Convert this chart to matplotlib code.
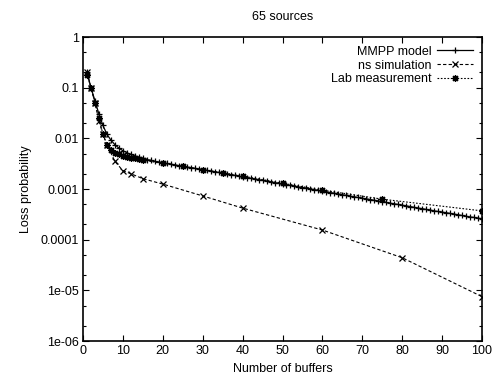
import numpy as np
import matplotlib
matplotlib.use("Agg")
import matplotlib.pyplot as plt
from matplotlib.ticker import FixedLocator, FixedFormatter, LogLocator, NullFormatter

plt.rcParams['font.family'] = ['Liberation Sans', 'DejaVu Sans']

# data
mmpp_x = list(range(1, 101))
mmpp_y = [0.2, 0.1, 0.055, 0.03, 0.018, 0.012, 0.0092, 0.0075, 0.0064, 0.0057,
          0.0052, 0.0048, 0.0045, 0.0042, 0.0040, 0.0038, 0.0037, 0.0035, 0.0034, 0.0033,
          3.2e-3, 3.1e-3, 3.0e-3, 2.9e-3, 2.82e-3, 2.73e-3, 2.65e-3, 2.57e-3, 2.49e-3, 2.41e-3,
          2.33e-3, 2.26e-3, 2.19e-3, 2.12e-3, 2.05e-3, 1.99e-3, 1.92e-3, 1.86e-3, 1.80e-3, 1.74e-3,
          1.68e-3, 1.63e-3, 1.58e-3, 1.53e-3, 1.48e-3, 1.43e-3, 1.39e-3, 1.34e-3, 1.30e-3, 1.26e-3,
          1.22e-3, 1.18e-3, 1.14e-3, 1.10e-3, 1.07e-3, 1.04e-3, 1.00e-3, 9.7e-4, 9.4e-4, 9.1e-4,
          8.8e-4, 8.5e-4, 8.25e-4, 8.0e-4, 7.7e-4, 7.5e-4, 7.25e-4, 7.0e-4, 6.8e-4, 6.6e-4,
          6.4e-4, 6.2e-4, 6.0e-4, 5.8e-4, 5.6e-4, 5.45e-4, 5.25e-4, 5.1e-4, 4.95e-4, 4.8e-4,
          4.65e-4, 4.5e-4, 4.35e-4, 4.2e-4, 4.1e-4, 3.95e-4, 3.85e-4, 3.7e-4, 3.6e-4, 3.5e-4,
          3.4e-4, 3.3e-4, 3.2e-4, 3.1e-4, 3.0e-4, 2.9e-4, 2.8e-4, 2.75e-4, 2.65e-4, 2.6e-4]

ns_x = [1, 2, 3, 4, 5, 6, 8, 10, 12, 15, 20, 30, 40, 60, 80, 100]
ns_y = [0.2, 0.1, 0.05, 0.022, 0.012, 0.0075, 0.0035, 0.0023, 0.002, 0.0016,
        0.00125, 0.00073, 0.00042, 0.000155, 0.000044, 7.5e-6]

lab_x = [1, 2, 3, 4, 5, 6, 7, 8, 9, 10, 11, 12, 13, 14, 15, 20, 25, 30, 35, 40, 50, 60, 75, 100]
lab_y = [0.18, 0.1, 0.05, 0.025, 0.012, 0.0075, 0.0058, 0.0052, 0.0048, 0.0045,
         0.0043, 0.0041, 0.0040, 0.0039, 0.0037, 0.0032, 0.0028, 0.0024, 0.0021, 0.0018,
         0.0013, 0.00095, 0.00063, 0.00037]

xticks = [0, 10, 20, 30, 40, 50, 60, 70, 80, 90, 100]
yticks = [1e-6, 1e-5, 1e-4, 1e-3, 1e-2, 1e-1, 1]
ytick_labels = ["1e-06", "1e-05", "0.0001", "0.001", "0.01", "0.1", "1"]

fig = plt.figure(figsize=(4.93, 3.83), dpi=100)
ax = fig.add_axes([83/493, 1-341/383, (482-83)/493, (341-37)/383])

ax.plot(mmpp_x, mmpp_y, color="black", lw=0.9, ls="-", marker="+", ms=5, mew=0.9,
        label="MMPP model")
ax.plot(ns_x, ns_y, color="black", lw=0.8, ls=(0, (3, 2)), marker="x", ms=4.5, mew=0.9,
        label="ns simulation")
ax.plot(lab_x, lab_y, color="black", lw=0.8, ls=(0, (1.5, 1.5)), marker=(8, 2, 0), ms=5, mew=0.9,
        label="Lab measurement")

ax.set_yscale("log")
ax.set_xlim(0, 100)
ax.set_ylim(1e-6, 1)
ax.xaxis.set_major_locator(FixedLocator(xticks))
ax.yaxis.set_major_locator(FixedLocator(yticks))
ax.yaxis.set_major_formatter(FixedFormatter(ytick_labels))
ax.yaxis.set_minor_locator(LogLocator(base=10, subs=(2.0, 5.0)))
ax.yaxis.set_minor_formatter(NullFormatter())

ax.tick_params(which="both", direction="in", top=True, right=True, labelsize=9, pad=3)
ax.tick_params(which="major", length=4, width=0.8)
ax.tick_params(which="minor", length=2.5, width=0.8)
for s in ax.spines.values():
    s.set_linewidth(1.2)

ax.set_xlabel("Number of buffers", fontsize=9, labelpad=4)
ax.set_ylabel("Loss probability", fontsize=9, labelpad=6)
ax.set_title("65 sources", fontsize=9, pad=12)

ax.legend(loc="upper right", frameon=False, markerfirst=False, numpoints=1,
          fontsize=9, handlelength=2.9, handletextpad=0.4, labelspacing=0.15,
          borderaxespad=0.3)

fig.savefig("out.png", dpi=100)
